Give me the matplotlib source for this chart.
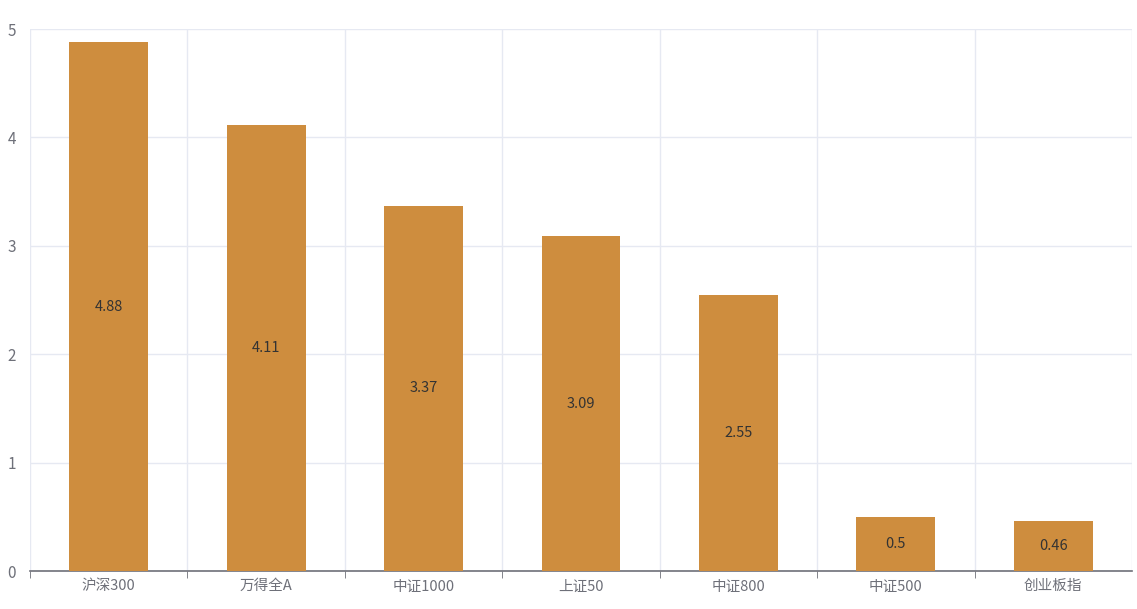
import matplotlib.pyplot as plt
import numpy as np

plt.rcParams['font.family'] = ['Noto Sans CJK SC', 'DejaVu Sans']

categories = ["沪深300", "万得全A", "中证1000", "上证50", "中证800", "中证500", "创业板指"]
values = [4.88, 4.11, 3.37, 3.09, 2.55, 0.5, 0.46]

bar_color = "#CE8D3E"
grid_color = "#E6E9F2"
axis_color = "#6E7079"

fig = plt.figure(figsize=(11.37, 6.09), dpi=100)
ax = fig.add_axes([30 / 1137, 1 - 571 / 609, (1132 - 30) / 1137, (571 - 29) / 609])

x = np.arange(len(categories))
bars = ax.bar(x, values, width=0.5, color=bar_color, zorder=3)

# value labels in the middle of each bar
for xi, v in zip(x, values):
    ax.text(xi, v / 2, str(v), ha="center", va="center", fontsize=10.5, color="#333333", zorder=4)

ax.set_xlim(-0.5, len(categories) - 0.5)
ax.set_ylim(0, 5)
ax.set_yticks(range(0, 6))
ax.set_xticks(x)
ax.set_xticklabels(categories)
ax.set_xticks(np.arange(-0.5, len(categories) - 1), minor=True)

ax.grid(axis="y", color=grid_color, linewidth=1, zorder=0)
ax.grid(axis="x", which="minor", color=grid_color, linewidth=1, zorder=0)
ax.axvline(len(categories) - 0.5, color=grid_color, linewidth=1, zorder=0)

for s in ["top", "right", "left"]:
    ax.spines[s].set_visible(False)
ax.spines["bottom"].set_color(axis_color)
ax.spines["bottom"].set_linewidth(1.2)

ax.tick_params(axis="x", which="major", length=0, pad=6, labelsize=10.5, labelcolor=axis_color)
ax.tick_params(axis="x", which="minor", length=5, color=axis_color, direction="out")
ax.tick_params(axis="y", length=0, pad=10, labelsize=11, labelcolor=axis_color)

fig.savefig("out.png", dpi=100)
